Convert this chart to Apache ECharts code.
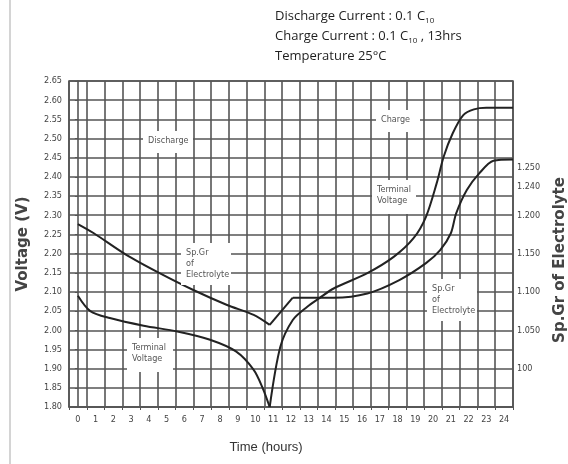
<!DOCTYPE html>
<html>
<head>
<meta charset="utf-8">
<script src="https://cdn.jsdelivr.net/npm/echarts@6/dist/echarts.min.js"></script>
<style>
  html, body { margin: 0; padding: 0; background: #fff; }
  #chart { width: 568px; height: 464px; }
</style>
</head>
<body>
<div id="chart"></div>
<script>
// hour labels on the bottom axis
var hours = [];
for (var i = 0; i <= 24; i++) hours.push(String(i));

// left axis ticks (voltage)
var voltMin = 1.80, voltMax = 2.65, voltStep = 0.05;

// right axis labels (Sp.Gr), placed at voltage-scale positions
var spgrTickPos = [1.90, 2.00, 2.10, 2.20, 2.30, 2.375, 2.425];
var spgrTickText = ['100', '1.050', '1.100', '1.150', '1.200', '1.240', '1.250'];

// terminal voltage, discharge part [hour, V]
var voltDischarge = [[0, 2.09], [0.7, 2.05], [1.8, 2.032], [3.7, 2.012], [5.6, 1.997],
  [7.4, 1.976], [8.9, 1.945], [9.9, 1.897], [10.4, 1.85], [10.8, 1.80]];
// terminal voltage, charge part
var voltCharge = [[10.8, 1.80], [11.4, 1.957], [12.1, 2.027], [12.9, 2.061], [13.6, 2.084],
  [14.4, 2.109], [16.3, 2.149], [17.8, 2.192], [18.9, 2.24], [19.6, 2.296], [20.2, 2.383],
  [20.6, 2.453], [21.1, 2.513], [21.7, 2.561], [22.3, 2.576], [23, 2.58], [24.5, 2.58]];

// specific gravity (drawn on voltage scale)
var spgrDischarge = [[0, 2.277], [0.9, 2.253], [2.75, 2.196], [4.6, 2.149], [6.5, 2.105],
  [8.4, 2.066], [9.9, 2.04], [10.8, 2.014]];
var spgrRise = [[10.8, 2.014], [12.1, 2.085]];
var spgrCharge = [[12.1, 2.085], [13.5, 2.085], [14.4, 2.085], [16.3, 2.096], [18.1, 2.131],
  [19.6, 2.175], [20.4, 2.209], [21, 2.253], [21.3, 2.305], [21.9, 2.366], [22.6, 2.409],
  [23.4, 2.442], [24.5, 2.445]];

var narrow = '"Liberation Sans Narrow", "DejaVu Sans Condensed", sans-serif';
var gridColor = '#555';
var lineColor = '#222';

function curve(data, smooth) {
  return {
    type: 'line',
    xAxisIndex: 1,
    yAxisIndex: 0,
    data: data,
    smooth: smooth,
    showSymbol: false,
    silent: true,
    lineStyle: { color: lineColor, width: 2 },
    z: 5
  };
}

function note(text, x, y, w, h) {
  return {
    type: 'text',
    left: x,
    top: y,
    z: 10,
    style: {
      text: text,
      font: '9px ' + narrow,
      fill: '#555',
      backgroundColor: '#fff',
      padding: [4, 5],
      width: w,
      height: h,
      lineHeight: 11
    }
  };
}

var chart = echarts.init(document.getElementById('chart'));
chart.setOption({
  backgroundColor: '#fff',
  animation: false,
  title: {
    left: 270,
    top: 1,
    text: '{a|Discharge Current : 0.1 C}{s|10}\n{a|Charge Current : 0.1 C}{s|10}{a| , 13hrs}\n{a|Temperature 25°C}',
    textStyle: {
      fontWeight: 'normal',
      rich: {
        a: { fontSize: 13, lineHeight: 20, color: '#1e1e1e', fontWeight: 'normal', fontFamily: 'Open Sans' },
        s: { fontSize: 8, lineHeight: 20, color: '#1e1e1e', fontWeight: 'normal', fontFamily: 'Open Sans', padding: [9, 0, 0, 0] }
      }
    }
  },
  grid: {
    left: 69, right: 55, top: 81, bottom: 57,
    outerBoundsMode: 'none',
    containLabel: false,
    show: true, borderColor: gridColor, borderWidth: 1.6
  },
  xAxis: [
    {
      type: 'category',
      data: hours,
      boundaryGap: true,
      name: 'Time (hours)',
      nameLocation: 'middle',
      nameGap: 34,
      nameTextStyle: { fontSize: 13, color: '#333', fontFamily: 'Liberation Sans', padding: [0, 50, 0, 0] },
      axisLine: { lineStyle: { color: gridColor, width: 1.6 } },
      axisTick: { show: true, length: 3, lineStyle: { color: gridColor } },
      axisLabel: { fontSize: 9, color: '#444', fontFamily: narrow, margin: 8, interval: 0 },
      splitLine: { show: true, interval: 0, lineStyle: { color: gridColor, width: 1.6 } }
    },
    {
      type: 'value',
      min: -0.5,
      max: 24.5,
      show: false
    }
  ],
  yAxis: [
    {
      type: 'value',
      min: voltMin,
      max: voltMax,
      interval: voltStep,
      name: 'Voltage (V)',
      nameLocation: 'middle',
      nameGap: 38,
      nameTextStyle: { fontSize: 15, fontWeight: 'bold', color: '#444', fontFamily: 'DejaVu Sans' },
      axisLine: { show: true, lineStyle: { color: gridColor, width: 1.6 } },
      axisTick: { show: true, length: 3, lineStyle: { color: gridColor } },
      axisLabel: {
        fontSize: 9, color: '#444', fontFamily: narrow, margin: 7,
        formatter: function (v) { return v.toFixed(2); }
      },
      splitLine: { show: true, lineStyle: { color: gridColor, width: 1.6 } }
    },
    {
      type: 'value',
      min: voltMin,
      max: voltMax,
      interval: 0.025,
      position: 'right',
      name: 'Sp.Gr of Electrolyte',
      nameLocation: 'middle',
      nameGap: 40,
      nameRotate: 90,
      nameTextStyle: { fontSize: 15, fontWeight: 'bold', color: '#444', fontFamily: 'DejaVu Sans', padding: [0, 32, 0, 0] },
      axisLine: { show: false },
      axisTick: { show: false },
      splitLine: { show: false },
      axisLabel: {
        fontSize: 9, color: '#444', fontFamily: narrow, margin: 4,
        formatter: function (v) {
          for (var k = 0; k < spgrTickPos.length; k++) {
            if (Math.abs(v - spgrTickPos[k]) < 0.001) return spgrTickText[k];
          }
          return '';
        }
      }
    }
  ],
  graphic: [
    { type: 'rect', left: 9, top: 0, shape: { width: 2, height: 464 }, style: { fill: '#d4d4d4' } },
    note('Discharge', 143, 131, 40, 14),
    note('Charge', 376, 110, 34, 14),
    note('Terminal\nVoltage', 372, 180, 34, 26),
    note('Sp.Gr\nof\nElectrolyte', 181, 243, 40, 34),
    note('Terminal\nVoltage', 127, 338, 36, 26),
    note('Sp.Gr\nof\nElectrolyte', 427, 279, 40, 34)
  ],
  series: [
    curve(voltDischarge, 0.3),
    curve(voltCharge, 0.3),
    curve(spgrDischarge, 0.3),
    curve(spgrRise, false),
    curve(spgrCharge, 0.3)
  ]
});
</script>
</body>
</html>
